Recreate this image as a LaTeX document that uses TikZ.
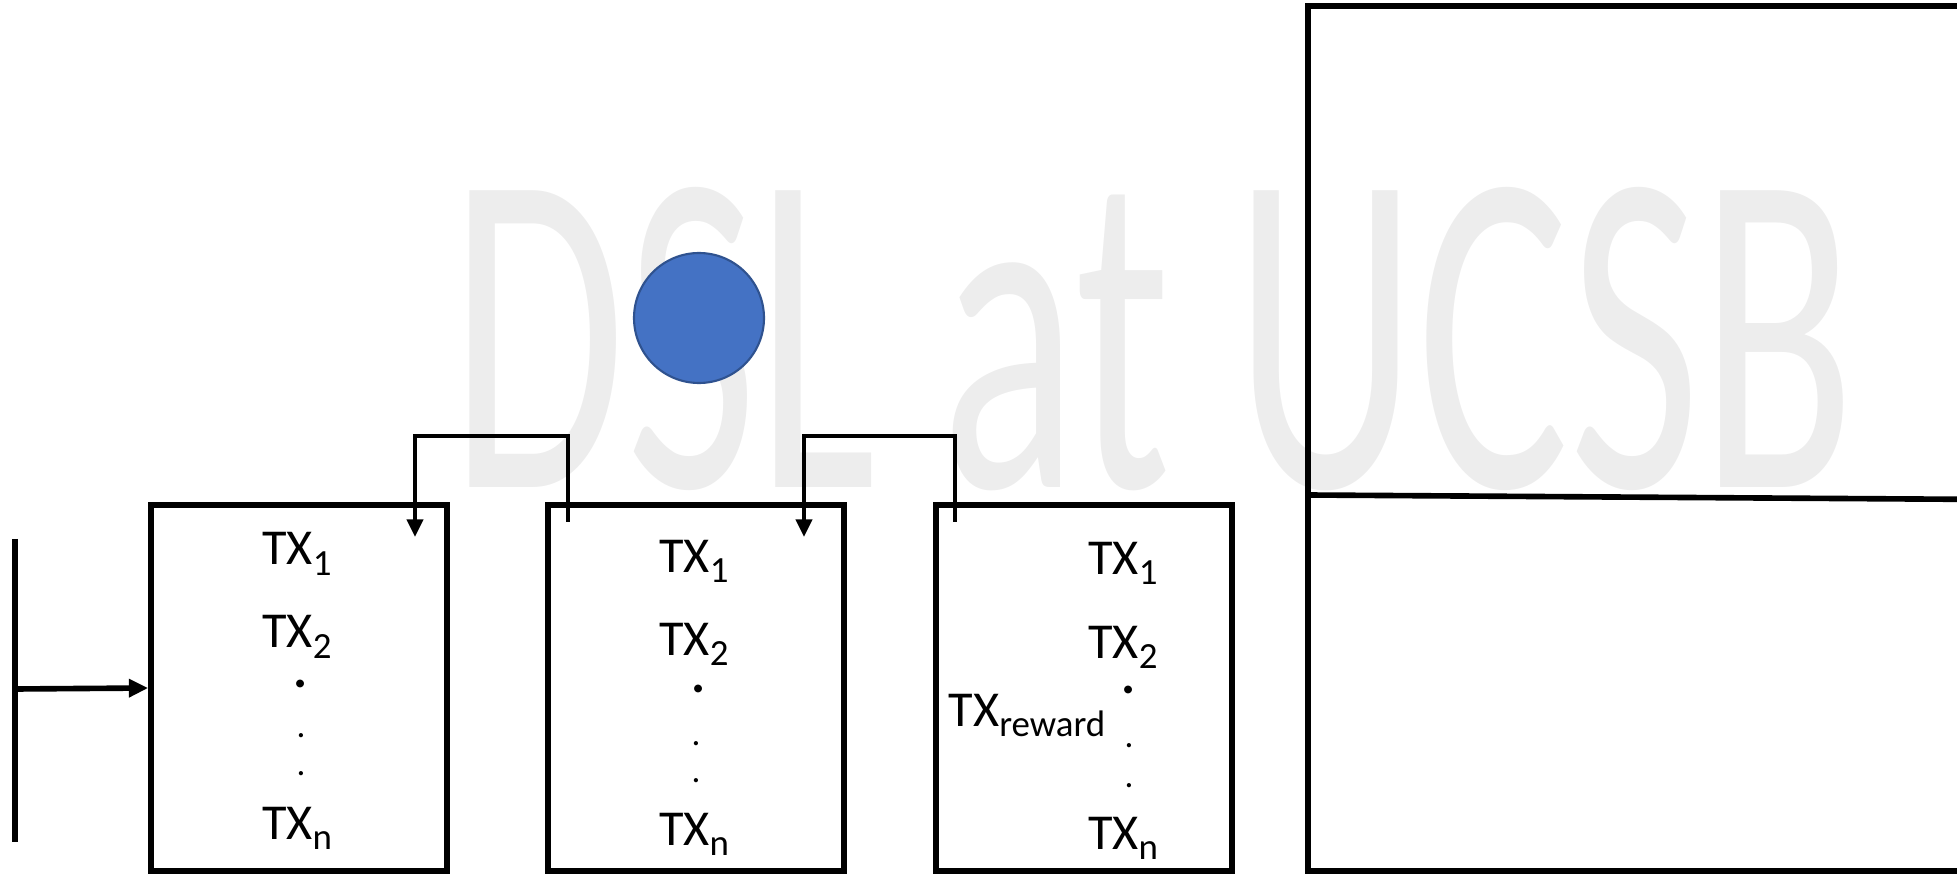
\documentclass[tikz,border=0pt]{standalone}
\usepackage{fontspec}
\setmainfont{Carlito}
\usepackage{graphicx}
\usetikzlibrary{arrows.meta, positioning, calc}
\definecolor{myblue}{HTML}{4472C4}
\definecolor{mybluedark}{HTML}{2F528F}
\newcommand{\txlabel}[1]{TX\raisebox{-3pt}{\fontsize{10.5}{12}\selectfont #1}}
\tikzset{
	blocknode/.style={
			rectangle,
			draw=black,
			line width=1.6pt,
			minimum width=29.6mm,
			minimum height=36.6mm,
			inner sep=0pt
		},
	ledgernode/.style={
			blocknode,
			minimum width=68.2mm,
			minimum height=86.5mm
		},
	txnode/.style={
			inner sep=0pt,
			anchor=base,
			font=\fontsize{14.3}{16}\selectfont
		},
	dotbig/.style={
			inner sep=0pt,
			font=\fontsize{15}{16}\selectfont\bfseries
		},
	dotsmall/.style={
			inner sep=0pt,
			font=\fontsize{10}{12}\selectfont
		},
	coinnode/.style={
			circle,
			fill=myblue,
			draw=mybluedark,
			line width=0.6pt,
			minimum size=13mm,
			inner sep=0pt
		},
	watermark/.style={
			inner sep=0pt,
			anchor=north west,
			text=black!7
		},
	linkline/.style={
			line width=1.3pt,
			-{Triangle[length=5pt,width=4.5pt]}
		},
	barline/.style={
			line width=1.6pt
		}
}

\begin{document}
\begin{tikzpicture}[x=0.1mm, y=-0.1mm]
	\useasboundingbox (0,0) rectangle (1957,874);

	% faint watermark
	\node[watermark] (wm) at (450,187) {\resizebox{140.5mm}{30mm}{DSL at UCSB}};

	\node[coinnode] (coin) at (699,318) {};

	% blocks
	\node[blocknode] (blockA) at (299,688) {};
	\node[blocknode] (blockB) at (696,688) {};
	\node[blocknode] (blockC) at (1084,688) {};
	\node[ledgernode] (ledger) at (1649,438.5) {};

	\coordinate (divL) at (1308,495);
	\coordinate (divR) at (1990,499.5);
	\draw[barline] (divL) -- (divR);

	% genesis bar
	\coordinate (barT) at (15,539);
	\coordinate (barB) at (15,842);
	\coordinate (barM) at (15,689);
	\draw[barline] (barT) -- (barB);
	\draw[barline, -{Triangle[length=5.5pt,width=5pt]}] (barM) -- (blockA.west);

	% hash links
	\coordinate (outB) at (568,522);
	\coordinate (inA) at (415,537);
	\coordinate (outC) at (955,522);
	\coordinate (inB) at (804,537);
	\draw[linkline] (outB) -- ++(0,-86) -| (inA);
	\draw[linkline] (outC) -- ++(0,-86) -| (inB);

	% transactions
	\node[txnode] (a1) at (297,565) {\txlabel{1}};
	\node[txnode] (a2) at (297,648) {\txlabel{2}};
	\node[dotbig] (a3) at (301,684) {.};
	\node[dotsmall] (a4) at (301,736) {.};
	\node[dotsmall] (a5) at (301,774) {.};
	\node[txnode] (a6) at (297,839) {\txlabel{n}};

	\node[txnode] (b1) at (694,572) {\txlabel{1}};
	\node[txnode] (b2) at (694,655) {\txlabel{2}};
	\node[dotbig] (b3) at (699,689) {.};
	\node[dotsmall] (b4) at (696,744) {.};
	\node[dotsmall] (b5) at (696,781) {.};
	\node[txnode] (b6) at (694,845) {\txlabel{n}};

	\node[txnode] (c1) at (1123,574) {\txlabel{1}};
	\node[txnode] (c2) at (1123,658) {\txlabel{2}};
	\node[dotbig] (c3) at (1129,690) {.};
	\node[dotsmall] (c4) at (1129,746) {.};
	\node[dotsmall] (c5) at (1129,786) {.};
	\node[txnode] (c6) at (1123,849) {\txlabel{n}};
	\node[txnode] (reward) at (1027,726) {\txlabel{reward}};
\end{tikzpicture}
\end{document}
